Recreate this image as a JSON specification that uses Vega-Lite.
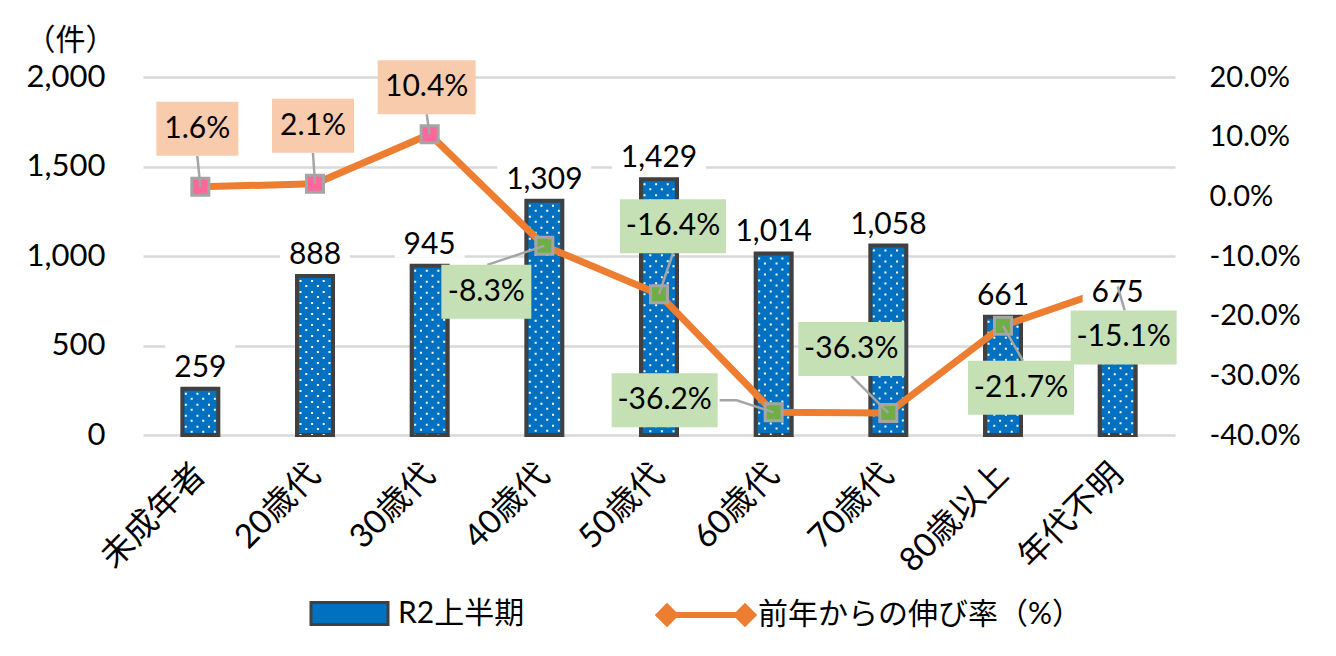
{
  "$schema": "https://vega.github.io/schema/vega-lite/v6.json",
  "width": 1032,
  "height": 358,
  "autosize": {"type": "none"},
  "padding": {"left": 143, "top": 77, "right": 161, "bottom": 221},
  "background": "white",
  "config": {
    "view": {"stroke": null},
    "font": "Lato, 'Noto Sans CJK JP', sans-serif",
    "locale": {"number": {"decimal": ".", "thousands": ",", "grouping": [3], "currency": ["$", ""], "minus": "-"}}
  },
  "params": [
    {"name": "off", "value": {
      "未成年者": {"dx": -3, "dy": -58, "lead": "M0,0L-3,-31"},
      "20歳代": {"dx": -2, "dy": -58, "lead": "M0,0L-2,-31"},
      "30歳代": {"dx": -3, "dy": -47, "lead": "M0,0L-3,-20"},
      "40歳代": {"dx": -58, "dy": 46, "lead": "M0,0L-57,19"},
      "50歳代": {"dx": 14, "dy": -68, "lead": "M0,0L14,-41"},
      "60歳代": {"dx": -109, "dy": -12, "lead": "M0,0L-37,-12L-54,-12"},
      "70歳代": {"dx": -37, "dy": -64, "lead": "M0,0L-37,-37"},
      "80歳以上": {"dx": 18, "dy": 62, "lead": "M0,0L20,35"},
      "年代不明": {"dx": 6, "dy": 51, "lead": "M0,0L7,24"}
    }}
  ],
  "data": {"values": [
    {"cat": "未成年者", "count": 259, "rate": 0.016},
    {"cat": "20歳代", "count": 888, "rate": 0.021},
    {"cat": "30歳代", "count": 945, "rate": 0.104},
    {"cat": "40歳代", "count": 1309, "rate": -0.083},
    {"cat": "50歳代", "count": 1429, "rate": -0.164},
    {"cat": "60歳代", "count": 1014, "rate": -0.362},
    {"cat": "70歳代", "count": 1058, "rate": -0.363},
    {"cat": "80歳以上", "count": 661, "rate": -0.217},
    {"cat": "年代不明", "count": 675, "rate": -0.151}
  ]},
  "encoding": {
    "x": {"field": "cat", "type": "nominal", "sort": null,
      "scale": {"paddingInner": 0, "paddingOuter": 0},
      "axis": {"title": null, "labelAngle": -45, "labelAlign": "right", "labelBaseline": "middle", "labelFontSize": 33, "labelColor": "#000000", "domain": false, "ticks": false, "labelPadding": 34, "labelOverlap": false, "labelLimit": 400}}
  },
  "layer": [
    {
      "mark": {"type": "bar", "size": 36, "stroke": "#404040", "strokeWidth": 4},
      "encoding": {
        "y": {"field": "count", "type": "quantitative", "scale": {"domain": [0, 2000], "nice": false},
          "axis": {"orient": "left", "values": [0, 500, 1000, 1500, 2000], "format": ",.0f", "grid": true, "gridColor": "#D9D9D9", "gridWidth": 2.5, "domain": false, "ticks": false, "labelPadding": 38, "labelFontSize": 31, "labelColor": "#000000", "title": "（件）", "titleAngle": 0, "titleX": -73, "titleY": -37, "titleAlign": "center", "titleBaseline": "middle", "titleFontSize": 30, "titleFontWeight": "normal", "titleColor": "#000000"}},
        "fill": {"datum": "R2上半期", "scale": {"range": ["#0070C0"]},
          "legend": {"orient": "none", "legendX": 185, "legendY": 515, "title": null, "symbolType": "M-1.925,-0.55H1.925V0.55H-1.925Z", "symbolSize": 1600, "symbolStrokeColor": "#404040", "symbolStrokeWidth": 3, "labelFontSize": 30, "labelOffset": 27, "labelColor": "#000000", "labelLimit": 500}}
      }
    },
    {"mark": {"type": "rule", "color": "white", "strokeWidth": 2, "strokeDash": [2, 9], "strokeDashOffset": 7, "xOffset": -14.5},
      "encoding": {"y": {"field": "count", "type": "quantitative", "scale": {"domain": [0, 2000], "nice": false}, "axis": null}, "y2": {"datum": 0}}},
    {"mark": {"type": "rule", "color": "white", "strokeWidth": 2, "strokeDash": [2, 9], "strokeDashOffset": 2, "xOffset": -8.7},
      "encoding": {"y": {"field": "count", "type": "quantitative", "scale": {"domain": [0, 2000], "nice": false}, "axis": null}, "y2": {"datum": 0}}},
    {"mark": {"type": "rule", "color": "white", "strokeWidth": 2, "strokeDash": [2, 9], "strokeDashOffset": 7, "xOffset": -2.9},
      "encoding": {"y": {"field": "count", "type": "quantitative", "scale": {"domain": [0, 2000], "nice": false}, "axis": null}, "y2": {"datum": 0}}},
    {"mark": {"type": "rule", "color": "white", "strokeWidth": 2, "strokeDash": [2, 9], "strokeDashOffset": 2, "xOffset": 2.9},
      "encoding": {"y": {"field": "count", "type": "quantitative", "scale": {"domain": [0, 2000], "nice": false}, "axis": null}, "y2": {"datum": 0}}},
    {"mark": {"type": "rule", "color": "white", "strokeWidth": 2, "strokeDash": [2, 9], "strokeDashOffset": 7, "xOffset": 8.7},
      "encoding": {"y": {"field": "count", "type": "quantitative", "scale": {"domain": [0, 2000], "nice": false}, "axis": null}, "y2": {"datum": 0}}},
    {"mark": {"type": "rule", "color": "white", "strokeWidth": 2, "strokeDash": [2, 9], "strokeDashOffset": 2, "xOffset": 14.5},
      "encoding": {"y": {"field": "count", "type": "quantitative", "scale": {"domain": [0, 2000], "nice": false}, "axis": null}, "y2": {"datum": 0}}},
    {
      "mark": {"type": "line", "strokeWidth": 7, "strokeJoin": "round"},
      "encoding": {
        "y": {"field": "rate", "type": "quantitative", "scale": {"domain": [-0.4, 0.2], "nice": false, "zero": false},
          "axis": {"orient": "right", "values": [-0.4, -0.3, -0.2, -0.1, 0, 0.1, 0.2], "format": ".1%", "grid": false, "domain": false, "ticks": false, "labelPadding": 34, "labelFontSize": 29, "labelColor": "#000000", "title": null}},
        "stroke": {"datum": "前年からの伸び率（%）", "scale": {"range": ["#ED7D31"]},
          "legend": {"orient": "none", "legendX": 540, "legendY": 515, "title": null, "symbolType": "M-2.35,0L-1.95,-0.4L-1.55,0L-1.95,0.4Z M1.55,0L1.95,-0.4L2.35,0L1.95,0.4Z M-1.55,0H1.55", "symbolSize": 1600, "symbolFillColor": "#ED7D31", "symbolStrokeWidth": 6, "labelFontSize": 30, "labelOffset": 29, "labelColor": "#000000", "labelLimit": 500}}
      }
    },
    {
      "mark": {"type": "point", "shape": "square", "size": 289, "filled": true, "stroke": "#A5A5A5", "strokeWidth": 3, "opacity": 1},
      "encoding": {
        "y": {"field": "rate", "type": "quantitative", "scale": {"domain": [-0.4, 0.2], "nice": false, "zero": false}, "axis": null},
        "fill": {"condition": {"test": "datum.rate > 0", "value": "#FF6699"}, "value": "#70AD47"}
      }
    },
    {
      "mark": {"type": "point", "filled": true, "fill": "white", "strokeWidth": 0, "size": 4, "opacity": 1,
        "shape": {"expr": "'M' + (-(datum.count >= 1000 ? 47 : 35)) + ',-46h' + (datum.count >= 1000 ? 94 : 70) + 'v38h' + (-(datum.count >= 1000 ? 94 : 70)) + 'z'"}},
      "encoding": {"y": {"field": "count", "type": "quantitative", "scale": {"domain": [0, 2000], "nice": false}, "axis": null}}
    },
    {
      "mark": {"type": "text", "fontSize": 30, "color": "#000000", "baseline": "alphabetic", "align": "center", "dy": -12},
      "encoding": {
        "y": {"field": "count", "type": "quantitative", "scale": {"domain": [0, 2000], "nice": false}, "axis": null},
        "text": {"field": "count", "type": "quantitative", "format": ",.0f"}
      }
    },
    {
      "mark": {"type": "point", "filled": false, "stroke": "#A5A5A5", "strokeWidth": 2.5, "size": 4, "opacity": 1,
        "shape": {"expr": "off[datum.cat].lead"}},
      "encoding": {"y": {"field": "rate", "type": "quantitative", "scale": {"domain": [-0.4, 0.2], "nice": false, "zero": false}, "axis": null}}
    },
    {
      "mark": {"type": "point", "filled": true, "strokeWidth": 0, "size": 4, "opacity": 1,
        "shape": {"expr": "'M' + (off[datum.cat].dx - (16 * (abs(datum.rate) >= 0.1 ? 3 : 2) + 50 + (datum.rate < 0 ? 8 : 0)) / 2) + ',' + (off[datum.cat].dy - 27) + 'h' + (16 * (abs(datum.rate) >= 0.1 ? 3 : 2) + 50 + (datum.rate < 0 ? 8 : 0)) + 'v54h' + (-(16 * (abs(datum.rate) >= 0.1 ? 3 : 2) + 50 + (datum.rate < 0 ? 8 : 0))) + 'z'"}},
      "encoding": {
        "y": {"field": "rate", "type": "quantitative", "scale": {"domain": [-0.4, 0.2], "nice": false, "zero": false}, "axis": null},
        "fill": {"condition": {"test": "datum.rate > 0", "value": "#F8CBAD"}, "value": "#C5E0B4"}
      }
    },
    {
      "mark": {"type": "text", "fontSize": 30, "color": "#000000", "baseline": "middle", "align": "center",
        "dx": {"expr": "off[datum.cat].dx"}, "dy": {"expr": "off[datum.cat].dy"}},
      "encoding": {
        "y": {"field": "rate", "type": "quantitative", "scale": {"domain": [-0.4, 0.2], "nice": false, "zero": false}, "axis": null},
        "text": {"field": "rate", "type": "quantitative", "format": ".1%"}
      }
    }
  ],
  "resolve": {"scale": {"y": "independent"}, "axis": {"y": "independent"}}
}
